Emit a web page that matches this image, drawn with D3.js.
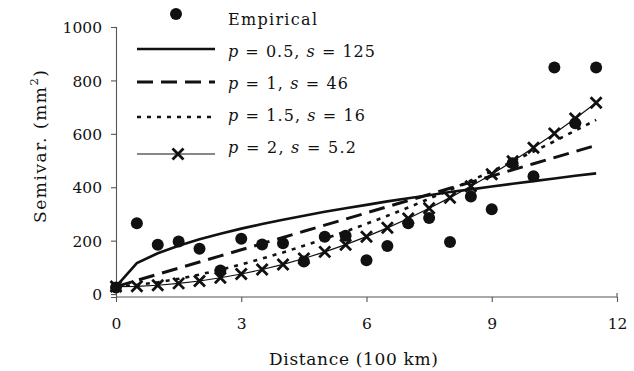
<!DOCTYPE html>
<html>
<head>
<meta charset="utf-8">
<script src="https://cdn.jsdelivr.net/npm/d3@7"></script>
<style>
  html, body { margin: 0; padding: 0; background: #fff; }
  svg { display: block; }
  text { font-family: "DejaVu Serif", serif; fill: #111; }
</style>
</head>
<body>
<svg id="chart" width="634" height="371"></svg>
<script>
// ---- data ----
const distances = [0, 0.5, 1, 1.5, 2, 2.5, 3, 3.5, 4, 4.5, 5, 5.5, 6, 6.5, 7, 7.5, 8, 8.5, 9, 9.5, 10, 10.5, 11, 11.5];
const empirical = [25, 265, 185, 197, 170, 88, 207, 186, 190, 122, 215, 218, 127, 180, 265, 285, 195, 365, 318, 490, 441, 848, 640, 848];
const fitP05 = [28, 116, 153, 181, 205, 226, 245, 262, 278, 293, 308, 321, 334, 347, 359, 370, 382, 392, 403, 413, 423, 433, 443, 452];
const fitP1  = [28, 51, 74, 97, 120, 143, 166, 189, 212, 235, 258, 281, 304, 327, 350, 373, 396, 419, 442, 465, 488, 511, 534, 557];
const fitP15 = [28, 34, 44, 57, 73, 91, 111, 133, 156, 181, 207, 234, 263, 293, 324, 357, 390, 425, 460, 497, 534, 572, 612, 652];
const fitP2  = [28, 29, 33, 40, 49, 61, 75, 92, 111, 133, 158, 185, 215, 248, 283, 321, 361, 404, 449, 497, 548, 601, 657, 716];
const xTicks = [0, 3, 6, 9, 12];
const yTicks = [0, 200, 400, 600, 800, 1000];
const legendLabels = [
  ["Empirical"],
  ["p", " = 0.5, ", "s", " = 125"],
  ["p", " = 1, ", "s", " = 46"],
  ["p", " = 1.5, ", "s", " = 16"],
  ["p", " = 2, ", "s", " = 5.2"]
];

// ---- layout ----
const svg = d3.select("#chart");
const ink = "#111";
const x = d3.scaleLinear().domain([0, 12]).range([116, 617]);
const y = d3.scaleLinear().domain([-11, 1000]).range([297, 27]);

// axes
const yAxis = d3.axisLeft(y).tickValues(yTicks).tickSize(5).tickSizeOuter(5).tickFormat(d3.format("d"));
const xAxis = d3.axisBottom(x).tickValues(xTicks).tickSize(5).tickSizeOuter(-4).tickFormat(d3.format("d"));

const gy = svg.append("g").attr("transform", "translate(116,0)").call(yAxis);
const gx = svg.append("g").attr("transform", "translate(0,297)").call(xAxis);
[gx, gy].forEach(g => {
  g.attr("font-family", null);
  g.selectAll("path, line").attr("stroke", "#555").attr("stroke-width", 1.1);
  g.selectAll("text").style("font-family", "DejaVu Serif").style("font-size", "15.5px").attr("fill", ink);
});
gy.selectAll("text").attr("x", -14).attr("dy", "0.36em");
gx.selectAll("text").attr("y", 21).attr("dy", "0.72em");
gx.select(".domain").remove();
gx.insert("path", ":first-child").attr("d", `M${x(0)},0H${x(12)}V-4`).attr("fill", "none").attr("stroke", "#555").attr("stroke-width", 1.1);

// axis titles
svg.append("text").attr("x", 269).attr("y", 365).attr("textLength", 169).attr("lengthAdjust", "spacing")
  .style("font-size", "17px").text("Distance (100 km)");
const yl = svg.append("text").attr("transform", "translate(46,223) rotate(-90)")
  .attr("textLength", 153).attr("lengthAdjust", "spacing").style("font-size", "17px");
yl.append("tspan").text("Semivar. (mm");
yl.append("tspan").attr("dy", -8).style("font-size", "11.5px").text("2");
yl.append("tspan").attr("dy", 8).text(")");

// data series
const pts = distances.map((d, i) => ({ d, e: empirical[i], a: fitP05[i], b: fitP1[i], c: fitP15[i], q: fitP2[i] }));

// empirical dots
svg.append("g").selectAll("circle").data(pts).join("circle")
  .attr("cx", p => x(p.d)).attr("cy", p => y(p.e)).attr("r", 6).attr("fill", ink);

const lineOf = key => d3.line().x(p => x(p.d)).y(p => y(p[key]));
const styles = [
  { key: "a", w: 2.6, dash: null },
  { key: "b", w: 3, dash: "16,8" },
  { key: "c", w: 2.6, dash: "4,6" },
  { key: "q", w: 1.2, dash: null }
];
styles.forEach(s => {
  svg.append("path").datum(pts).attr("d", lineOf(s.key)).attr("fill", "none")
    .attr("stroke", ink).attr("stroke-width", s.w).attr("stroke-dasharray", s.dash);
});

// X markers
const xm = 5.5;
const crossPath = (cx, cy) => `M${cx - xm},${cy - xm}L${cx + xm},${cy + xm}M${cx - xm},${cy + xm}L${cx + xm},${cy - xm}`;
svg.append("g").selectAll("path").data(pts).join("path")
  .attr("d", p => crossPath(x(p.d), y(p.q))).attr("stroke", ink).attr("stroke-width", 2.8).attr("fill", "none");

// legend
const lg = svg.append("g");
lg.append("circle").attr("cx", 176).attr("cy", 14).attr("r", 6).attr("fill", ink);
const legRowsY = [49, 82, 117, 154];
styles.forEach((s, i) => {
  lg.append("line").attr("x1", 137).attr("x2", 215).attr("y1", legRowsY[i]).attr("y2", legRowsY[i])
    .attr("stroke", ink).attr("stroke-width", s.w).attr("stroke-dasharray", s.dash);
});
lg.append("path").attr("d", crossPath(178, 154)).attr("stroke", ink).attr("stroke-width", 2.8);

const textY = [25, 57, 89, 121, 153];
const textW = [89, 147, 120, 137, 128];
legendLabels.forEach((parts, i) => {
  const t = lg.append("text").attr("x", 228).attr("y", textY[i])
    .attr("textLength", textW[i]).attr("lengthAdjust", "spacing").style("font-size", "16px");
  parts.forEach(part => {
    const ts = t.append("tspan").text(part);
    if (part === "p" || part === "s") ts.style("font-style", "italic");
  });
});
</script>
</body>
</html>
